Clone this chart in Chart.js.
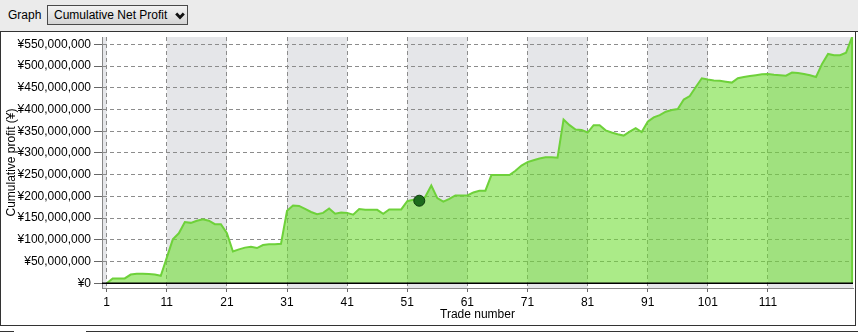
<!DOCTYPE html>
<html>
<head>
<meta charset="utf-8">
<script src="https://cdn.jsdelivr.net/npm/chart.js@4/dist/chart.umd.min.js"></script>
<style>
html,body{margin:0;padding:0;width:858px;height:333px;overflow:hidden;background:#fff;font-family:"Liberation Sans",Arial,sans-serif;}
#cv{position:absolute;left:0;top:0;}
#hdr{position:absolute;left:0;top:0;width:858px;height:31px;background:#ebebeb;border-bottom:1px solid #333;z-index:2;}
#lbl{position:absolute;left:8px;top:8px;font-size:12px;color:#000;}
#sel{position:absolute;left:47px;top:5px;width:139px;height:18px;border:1px solid #4a4a4a;background:linear-gradient(#f3f3f3,#d4d4d4);font-size:12px;z-index:3;}
#sel span{position:absolute;left:6px;top:2px;color:#000;white-space:nowrap;}
#sel svg{position:absolute;left:127px;top:6px;}
.ln{position:absolute;background:#333;z-index:2;}
</style>
</head>
<body>
<div id="hdr"><div id="lbl">Graph</div><div id="sel"><span>Cumulative Net Profit</span><svg width="10" height="8" viewBox="0 0 10 8"><polyline points="1.2,1.5 5,5.5 8.8,1.5" fill="none" stroke="#111" stroke-width="2.8"/></svg></div></div>
<div class="ln" style="left:0;top:32px;width:1px;height:294px;"></div>
<div class="ln" style="left:855px;top:32px;width:1px;height:294px;"></div>
<div class="ln" style="left:0;top:325px;width:856px;height:1px;"></div>
<div class="ln" style="left:0;top:331px;width:14px;height:1px;"></div>
<div class="ln" style="left:86px;top:331px;width:772px;height:1px;"></div>
<canvas id="cv" width="858" height="333"></canvas>
<script>
// Cumulative net profit after each trade, in millions of yen
const profitMillions = [
  0, 11, 11, 11, 20, 22, 22, 21, 20, 17,
  59, 101, 115, 141, 139, 144, 147, 144, 136, 136,
  115, 73, 78, 82, 84, 81, 88, 90, 90, 91,
  167, 179, 178, 171, 164, 159, 162, 172, 160, 163,
  162, 158, 171, 169, 169, 169, 160, 170, 170, 170,
  189, 192, 190, 199, 225, 196, 188, 194, 202, 202,
  202, 209, 213, 213, 249, 249, 249, 249, 259, 271,
  279, 283, 287, 290, 290, 289, 377, 364, 354, 353,
  347, 364, 364, 352, 347, 343, 340, 349, 357, 348,
  372, 382, 387, 395, 399, 401, 423, 431, 452, 472,
  469, 467, 466, 464, 462, 472, 475, 477, 479, 481,
  482, 480, 479, 478, 485, 484, 482, 479, 475, 505,
  528, 525, 525, 531, 567
];
const tradeNumbers = profitMillions.map((_, i) => i + 1);
const xTickLabels = [1, 11, 21, 31, 41, 51, 61, 71, 81, 91, 101, 111];
const yTickValues = [0, 50, 100, 150, 200, 250, 300, 350, 400, 450, 500, 550];
const markedTrade = 53;

const M = 1000000;
const points = tradeNumbers.map((t, i) => ({x: t, y: profitMillions[i] * M}));
const LINE = '#6ed13a';
const FILL = 'rgba(110,220,50,0.58)';
const BAND = '#e5e6e9';
const GRID = '#8c8c8c';
const FONT = {family: '"Liberation Sans", Arial, sans-serif', size: 12};

const decor = {
  id: 'decor',
  beforeDraw(chart) {
    const {ctx, chartArea: a, scales: {x}} = chart;
    const b = [x.min, ...xTickLabels, x.max];
    ctx.save();
    ctx.fillStyle = BAND;
    for (let i = 0; i < b.length - 1; i += 2) {
      const x0 = x.getPixelForValue(b[i]);
      const x1 = x.getPixelForValue(b[i + 1]);
      ctx.fillRect(x0, a.top, x1 - x0, a.bottom - a.top);
    }
    ctx.restore();
  },
  afterDatasetsDraw(chart) {
    const {ctx, chartArea: a, scales: {x, y}} = chart;
    const last = points[points.length - 1];
    const px = x.getPixelForValue(last.x);
    const y0 = y.getPixelForValue(0);
    ctx.save();
    ctx.strokeStyle = LINE;
    ctx.lineWidth = 2;
    ctx.beginPath();
    ctx.moveTo(px, y.getPixelForValue(last.y));
    ctx.lineTo(px, y0);
    ctx.stroke();
    ctx.strokeStyle = '#000';
    ctx.lineWidth = 1.5;
    ctx.beginPath();
    ctx.moveTo(a.left, y0);
    ctx.lineTo(a.right, y0);
    ctx.stroke();
    const meta = chart.getDatasetMeta(0);
    const el = meta.data[markedTrade - 1];
    ctx.fillStyle = '#1d6b1d';
    ctx.strokeStyle = '#0b3a0b';
    ctx.lineWidth = 1;
    ctx.beginPath();
    ctx.arc(el.x, el.y, 5.5, 0, Math.PI * 2);
    ctx.fill();
    ctx.stroke();
    ctx.restore();
  }
};

new Chart(document.getElementById('cv'), {
  type: 'line',
  data: {
    datasets: [{
      data: points,
      borderColor: LINE,
      borderWidth: 2,
      backgroundColor: FILL,
      fill: 'origin',
      tension: 0,
      pointRadius: 0,
      pointHoverRadius: 0
    }]
  },
  options: {
    responsive: false,
    animation: false,
    devicePixelRatio: 1,
    events: [],
    layout: {padding: {left: 0, right: 5, top: 37, bottom: 8}},
    plugins: {legend: {display: false}, tooltip: {enabled: false}},
    scales: {
      x: {
        type: 'linear',
        min: 0.22,
        max: 125.15,
        afterBuildTicks: s => { s.ticks = xTickLabels.map(v => ({value: v})); },
        afterFit: s => { s.height = 37; },
        ticks: {color: '#000', font: FONT, padding: 3, maxRotation: 0, autoSkip: false, callback: v => String(v)},
        grid: {color: GRID, lineWidth: 1, tickLength: 4, tickColor: '#666', tickBorderDash: []},
        border: {display: true, color: '#888', width: 1, dash: [4, 3]},
        title: {display: true, text: 'Trade number', color: '#000', font: FONT, padding: {top: 0, bottom: 3}}
      },
      y: {
        type: 'linear',
        min: -11 * M,
        max: 567 * M,
        afterBuildTicks: s => { s.ticks = yTickValues.map(v => ({value: v * M})); },
        afterFit: s => { s.width = 102; },
        ticks: {color: '#000', font: FONT, padding: 3, callback: v => '¥' + Number(v).toLocaleString('en-US')},
        grid: {color: GRID, lineWidth: 1, tickLength: 8, tickColor: '#666', tickBorderDash: []},
        border: {display: true, color: '#888', width: 1, dash: [4, 3]},
        title: {display: true, text: 'Cumulative profit (¥)', color: '#000', font: FONT, padding: {top: 4, bottom: 0}}
      }
    }
  },
  plugins: [decor]
});
</script>
</body>
</html>
